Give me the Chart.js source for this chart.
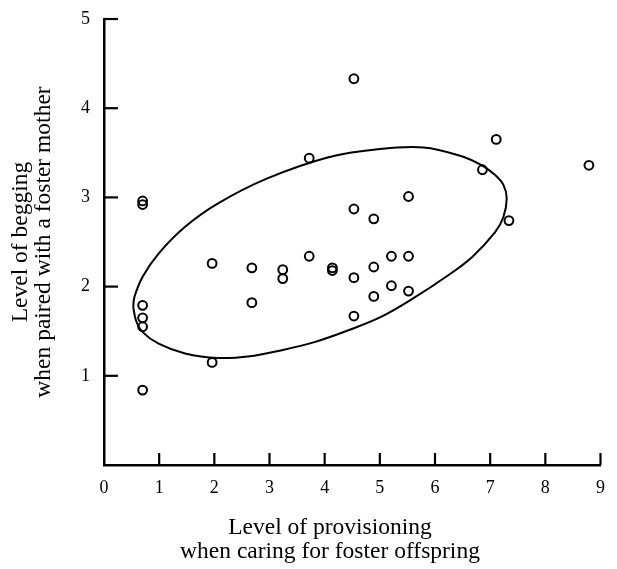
<!DOCTYPE html>
<html>
<head>
<meta charset="utf-8">
<script src="https://cdn.jsdelivr.net/npm/chart.js@4.4.1/dist/chart.umd.min.js"></script>
<style>
  html, body { margin: 0; padding: 0; background: #fff; }
  #wrap { width: 617px; height: 569px; position: relative; }
</style>
</head>
<body>
<div id="wrap"><canvas id="chart"></canvas></div>
<script>
// provisioning (x) and begging (y) for each chick
const provisioning = [3.72, 6.86, 0.70, 0.70, 5.52, 4.53, 4.89, 7.34, 1.96, 2.68, 3.24, 3.24, 3.72, 4.14, 4.14, 4.53,
  4.89, 5.21, 5.52, 5.21, 5.52, 4.89, 4.53, 2.68, 0.70, 0.70, 0.70, 1.96, 0.70, 7.11, 8.79, 4.53];
const begging = [3.44, 3.31, 2.96, 2.92, 3.01, 2.87, 2.76, 2.74, 2.26, 2.21, 2.19, 2.09, 2.34, 2.21, 2.18, 2.10,
  2.22, 2.34, 2.34, 2.01, 1.95, 1.89, 1.67, 1.82, 1.79, 1.65, 1.55, 1.15, 0.84, 3.65, 3.36, 4.33];

// outline of the ellipse
const ellipseX = [0.53, 0.55, 0.70, 0.99, 1.47, 2.06, 2.95, 4.07, 4.96, 5.79, 6.44, 6.85, 7.09, 7.24, 7.30, 7.24,
  7.09, 6.67, 6.20, 5.61, 5.02, 4.43, 3.83, 3.24, 2.65, 2.06, 1.47, 0.99, 0.70, 0.58, 0.53];
const ellipseY = [1.77, 1.88, 2.11, 2.37, 2.67, 2.93, 3.21, 3.45, 3.54, 3.56, 3.47, 3.36, 3.25, 3.14, 2.99, 2.78,
  2.61, 2.33, 2.11, 1.87, 1.66, 1.51, 1.38, 1.29, 1.22, 1.20, 1.25, 1.36, 1.49, 1.62, 1.77];

const xTickLabels = ['0', '1', '2', '3', '4', '5', '6', '7', '8', '9'];
const yTickLabels = ['', '1', '2', '3', '4', '5'];
const xTitle = ['Level of provisioning', 'when caring for foster offspring'];
const yTitle = ['Level of begging', 'when paired with a foster mother'];

const FONT = '"Liberation Serif", "DejaVu Serif", serif';

const points = provisioning.map((x, i) => ({ x: x, y: begging[i] }));
const ellipse = ellipseX.map((x, i) => ({ x: x, y: ellipseY[i] }));

// ticks drawn inward from the axes, plus the x-axis title
const axisExtras = {
  id: 'axisExtras',
  afterDraw(chart) {
    const ctx = chart.ctx;
    const xs = chart.scales.x;
    const ys = chart.scales.y;
    ctx.save();
    ctx.strokeStyle = '#000';
    ctx.lineWidth = 2.2;
    xTickLabels.forEach((lab, i) => {
      if (i === 0) return;
      const px = xs.getPixelForValue(i);
      ctx.beginPath();
      ctx.moveTo(px, xs.top);
      ctx.lineTo(px, xs.top - 12);
      ctx.stroke();
    });
    yTickLabels.forEach((lab, i) => {
      if (i === 0) return;
      const py = ys.getPixelForValue(i);
      ctx.beginPath();
      ctx.moveTo(ys.right, py);
      ctx.lineTo(ys.right + 14, py);
      ctx.stroke();
    });
    ctx.fillStyle = '#000';
    ctx.font = '23.5px ' + FONT;
    ctx.textAlign = 'center';
    ctx.textBaseline = 'middle';
    xTitle.forEach((line, i) => {
      ctx.fillText(line, 330, 528 + i * 24);
    });
    ctx.restore();
  }
};

new Chart(document.getElementById('chart'), {
  type: 'scatter',
  data: {
    datasets: [
      {
        data: points,
        pointStyle: 'circle',
        pointRadius: 4.4,
        pointBorderWidth: 2,
        borderColor: '#000',
        backgroundColor: 'rgba(0,0,0,0)'
      },
      {
        data: ellipse,
        showLine: true,
        tension: 0.35,
        pointRadius: 0,
        borderColor: '#000',
        borderWidth: 2,
        fill: false
      }
    ]
  },
  options: {
    responsive: true,
    maintainAspectRatio: false,
    animation: false,
    layout: { padding: { top: 19, right: 6, bottom: 0, left: 0 } },
    plugins: {
      legend: { display: false },
      tooltip: { enabled: false }
    },
    scales: {
      x: {
        type: 'linear',
        min: 0,
        max: 9,
        grid: { display: false, drawTicks: false },
        border: { display: true, color: '#000', width: 2.5 },
        ticks: {
          stepSize: 1,
          padding: 12,
          color: '#000',
          font: { family: FONT, size: 18 },
          callback: (v, i) => xTickLabels[i]
        },
        afterFit(scale) { scale.height = 104; }
      },
      y: {
        type: 'linear',
        min: 0,
        max: 5,
        grid: { display: false, drawTicks: false },
        border: { display: true, color: '#000', width: 2.5 },
        ticks: {
          stepSize: 1,
          padding: 14,
          color: '#000',
          font: { family: FONT, size: 18 },
          callback: (v, i) => yTickLabels[i]
        },
        title: {
          display: true,
          text: yTitle,
          color: '#000',
          font: { family: FONT, size: 23.5, lineHeight: 0.95 },
          padding: { top: 10, bottom: 0 }
        },
        afterFit(scale) {
          scale.width = 104;
          scale.paddingTop = 4;
        }
      }
    }
  },
  plugins: [axisExtras]
});
</script>
</body>
</html>
